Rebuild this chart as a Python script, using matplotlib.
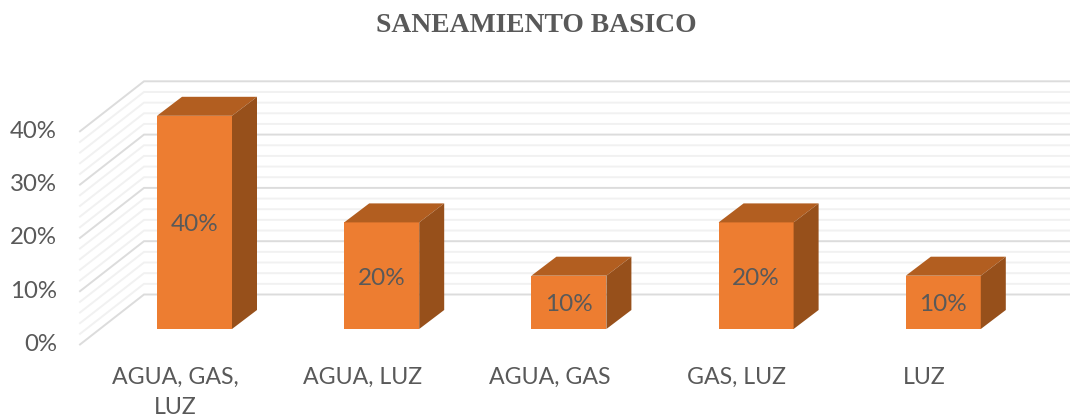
#!/usr/bin/env python3
"""SANEAMIENTO BASICO - fake 3D column chart, drawn with flat polygons."""
import matplotlib
matplotlib.use("Agg")
import matplotlib.pyplot as plt
from matplotlib.patches import Polygon

categories = ["AGUA, GAS,\nLUZ", "AGUA, LUZ", "AGUA, GAS", "GAS, LUZ", "LUZ"]
values = [40, 20, 10, 20, 10]
y_ticks = [0, 10, 20, 30, 40]
title = "SANEAMIENTO BASICO"

FRONT = "#ED7D31"; TOP = "#B25E20"; SIDE = "#97501B"
INK = "#595959"; MAJOR = "#DCDCDC"; MINOR = "#F1F1F1"
W, H = 1070, 419

# pixel scale of the axes: one category = 187.2 px, 10% = 53.3 px
PX_X = 187.2; PX_Y = 5.33
X0 = 194.5; Y0 = 329

fig = plt.figure(figsize=(W/100, H/100), dpi=100, facecolor="white")
ax = fig.add_axes([0, 0, 1, 1])
ax.set_xlim(-X0/PX_X, (W-X0)/PX_X)
ax.set_ylim(-(H-Y0)/PX_Y, Y0/PX_Y)
ax.axis("off")

# depth of the bars and of the side wall, in data units
bar_w = 75/PX_X
dx, dy = 25/PX_X, 19/PX_Y
wall_front_x, wall_back_x = (80-X0)/PX_X, (144-X0)/PX_X
wall_front_y, wall_back_y = -15.5/PX_Y, 34.5/PX_Y
right_x = (W-X0)/PX_X

# wall grid: major line every 10%, four fainter ones between
for g in range(0, 41, 2):
    major = g % 10 == 0
    col = MAJOR if major else MINOR
    ax.plot([wall_front_x, wall_back_x, right_x],
            [g+wall_front_y, g+wall_back_y, g+wall_back_y],
            color=col, lw=1.4, zorder=1 if major else 0.5, solid_joinstyle="miter")

for i, v in enumerate(values):
    l, r = i-bar_w/2, i+bar_w/2
    ax.add_patch(Polygon([(l, 0), (r, 0), (r, v), (l, v)], fc=FRONT, ec="none", zorder=3))
    ax.add_patch(Polygon([(l, v), (r, v), (r+dx, v+dy), (l+dx, v+dy)], fc=TOP, ec="none", zorder=3))
    ax.add_patch(Polygon([(r, 0), (r+dx, dy), (r+dx, v+dy), (r, v)], fc=SIDE, ec="none", zorder=3))
    ax.text(i/PX_X*PX_X, v/2-2.5/PX_Y, f"{v}%", ha="center", va="center", fontsize=17.5,
            color=INK, family="Lato", zorder=4)
    ax.text(i-19.5/PX_X, -38/PX_Y, categories[i], ha="center", va="top", fontsize=16.7,
            color=INK, family="Lato", linespacing=1.55)

for t in y_ticks:
    ax.text(-137.5/PX_X, t-15.5/PX_Y, f"{t}%", ha="right", va="center", fontsize=17.3,
            color=INK, family="Lato")

fig.text(536/W, 1-25/H, title, ha="center", va="center", fontsize=19.9,
         fontweight="bold", color=INK, family="Liberation Serif")

fig.savefig("out.png", dpi=100)
